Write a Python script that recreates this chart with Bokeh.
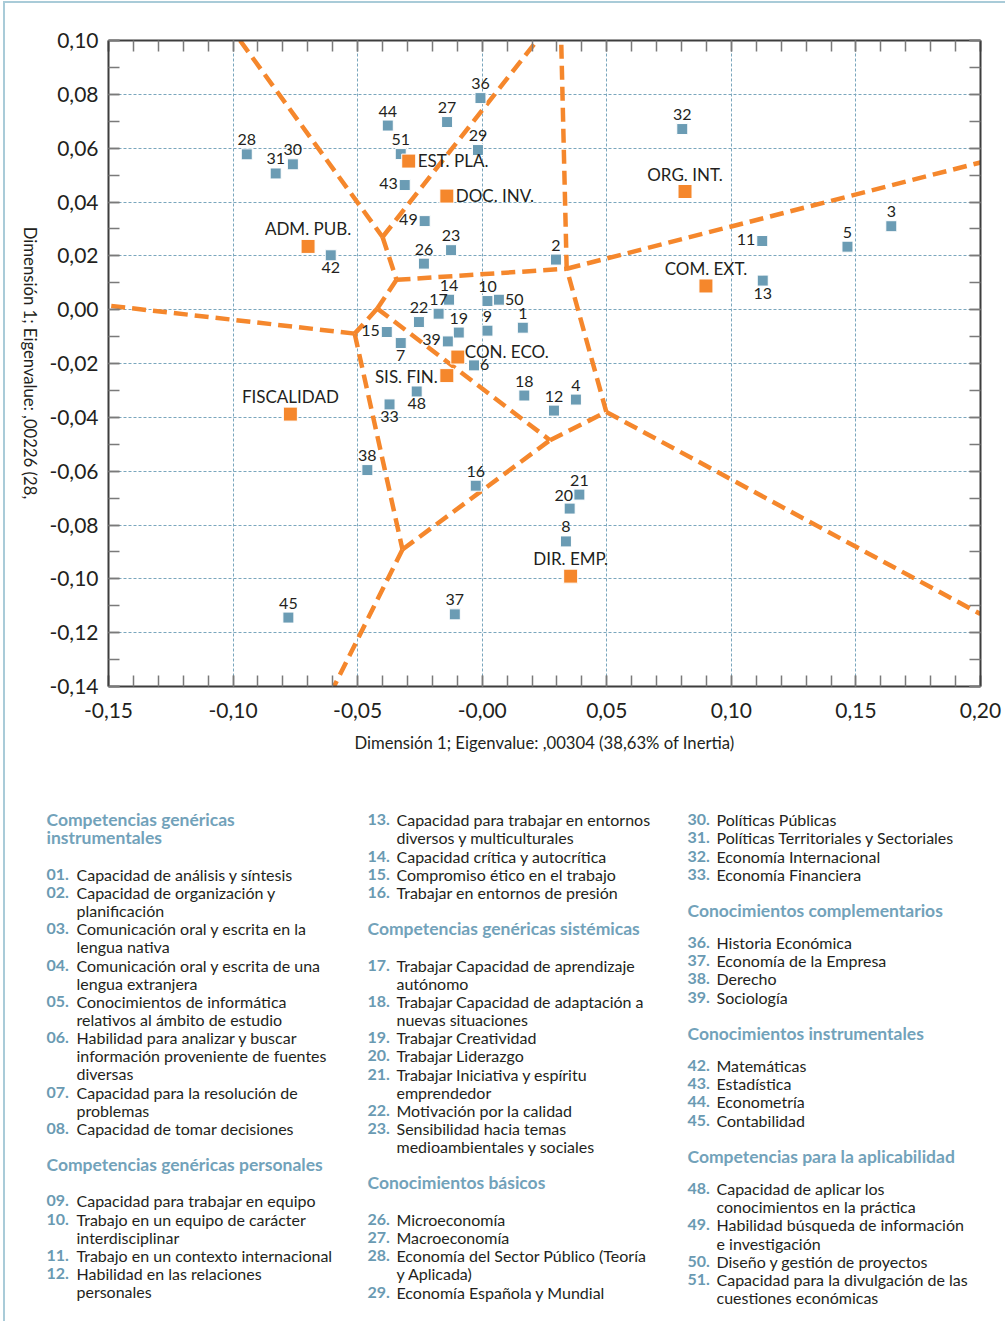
import numpy as np
from bokeh.plotting import figure
from bokeh.models import (Range1d, LinearAxis, FixedTicker, Grid, ColumnDataSource,
                          CustomJSTickFormatter)
from bokeh.layouts import column, row
from bokeh.core.properties import value
from bokeh.embed import file_html
from bokeh.resources import INLINE

# ---------------- data ----------------
point_ids = ["1", "2", "3", "4", "5", "6", "7", "8", "9", "10", "11", "12", "13", "14", "15",
             "16", "17", "18", "19", "20", "21", "22", "23", "26", "27", "28", "29", "30", "31",
             "32", "33", "36", "37", "38", "39", "42", "43", "44", "45", "48", "49", "50", "51"]
point_x = [0.0163, 0.0296, 0.1642, 0.0376, 0.1466, -0.0033, -0.0327, 0.0336, 0.0021, 0.0021,
           0.1124, 0.0288, 0.1126, -0.0133, -0.0383, -0.0026, -0.0175, 0.0169, -0.0094, 0.0351,
           0.0390, -0.0254, -0.0125, -0.0234, -0.0141, -0.0945, -0.0017, -0.0760, -0.0829,
           0.0803, -0.0372, -0.0007, -0.0110, -0.0461, -0.0138, -0.0608, -0.0311, -0.0379,
           -0.0778, -0.0263, -0.0231, 0.0067, -0.0327]
point_y = [-0.0067, 0.0186, 0.0310, -0.0334, 0.0234, -0.0207, -0.0124, -0.0861, -0.0078, 0.0032,
           0.0255, -0.0375, 0.0108, 0.0037, -0.0083, -0.0654, -0.0015, -0.0319, -0.0085, -0.0739,
           -0.0687, -0.0046, 0.0221, 0.0171, 0.0697, 0.0577, 0.0593, 0.0540, 0.0506,
           0.0671, -0.0352, 0.0786, -0.1132, -0.0596, -0.0118, 0.0202, 0.0463, 0.0684,
           -0.1144, -0.0304, 0.0329, 0.0037, 0.0578]
point_place = ["a", "a", "a", "a", "a", "r", "b", "a", "a", "a", "l", "a", "b", "a", "l",
               "a", "a", "a", "a", "al", "a", "a", "a", "a", "a", "a", "a", "a", "a",
               "a", "b", "a", "a", "a", "l", "b", "l", "a", "a", "b", "l", "r", "a"]

cat_names = ["EST. PLA.", "DOC. INV.", "ADM. PUB.", "ORG. INT.", "COM. EXT.", "CON. ECO.",
             "SIS. FIN.", "FISCALIDAD", "DIR. EMP."]
cat_x = [-0.0295, -0.0142, -0.0699, 0.0814, 0.0898, -0.0098, -0.0142, -0.0770, 0.0355]
cat_y = [0.0552, 0.0422, 0.0235, 0.0439, 0.0088, -0.0176, -0.0245, -0.0388, -0.0990]
cat_place = ["r", "r", "a", "a", "a", "ru", "l", "a", "a"]

# boundary vertices (data units) and the edges joining them
vertex_names = ["A", "B", "C", "D", "E", "F", "G", "H",
                "TL", "TM", "TC", "RC", "RH", "LE", "BG"]
vertex_x = [-0.0400, -0.0344, 0.0339, -0.0421, -0.0512, 0.0272, -0.0320, 0.0498,
            -0.0972, 0.0220, 0.0317, 0.2000, 0.2000, -0.1500, -0.0595]
vertex_y = [0.0270, 0.0111, 0.0152, 0.0004, -0.0089, -0.0485, -0.0891, -0.0380,
            0.1000, 0.1000, 0.1000, 0.0547, -0.1131, 0.0015, -0.1400]
edges = [("TL", "A"), ("A", "TM"), ("A", "B"), ("B", "C"), ("B", "D"), ("D", "E"),
         ("D", "F"), ("E", "LE"), ("E", "G"), ("G", "BG"), ("G", "F"), ("F", "H"),
         ("H", "C"), ("H", "RH"), ("C", "TC"), ("C", "RC")]

x_ticks = [-0.15, -0.10, -0.05, 0.0, 0.05, 0.10, 0.15, 0.20]
x_tick_labels = ["-0,15", "-0,10", "-0,05", "-0,00", "0,05", "0,10", "0,15", "0,20"]
y_ticks = [0.10, 0.08, 0.06, 0.04, 0.02, 0.0, -0.02, -0.04, -0.06, -0.08, -0.10, -0.12, -0.14]
y_tick_labels = ["0,10", "0,08", "0,06", "0,04", "0,02", "0,00", "-0,02", "-0,04", "-0,06",
                 "-0,08", "-0,10", "-0,12", "-0,14"]
x_label = "Dimensión 1; Eigenvalue: ,00304 (38,63% of Inertia)"
y_label = "Dimensión 1; Eigenvalue: ,00226 (28,"

legend_col1 = [
    ["H", "Competencias genéricas", "instrumentales"],
    ["01.", "Capacidad de análisis y síntesis"],
    ["02.", "Capacidad de organización y", "planificación"],
    ["03.", "Comunicación oral y escrita en la", "lengua nativa"],
    ["04.", "Comunicación oral y escrita de una", "lengua extranjera"],
    ["05.", "Conocimientos de informática", "relativos al ámbito de estudio"],
    ["06.", "Habilidad para analizar y buscar", "información proveniente de fuentes", "diversas"],
    ["07.", "Capacidad para la resolución de", "problemas"],
    ["08.", "Capacidad de tomar decisiones"],
    ["H", "Competencias genéricas personales"],
    ["09.", "Capacidad para trabajar en equipo"],
    ["10.", "Trabajo en un equipo de carácter", "interdisciplinar"],
    ["11.", "Trabajo en un contexto internacional"],
    ["12.", "Habilidad en las relaciones", "personales"],
]
legend_col2 = [
    ["13.", "Capacidad para trabajar en entornos", "diversos y multiculturales"],
    ["14.", "Capacidad crítica y autocrítica"],
    ["15.", "Compromiso ético en el trabajo"],
    ["16.", "Trabajar en entornos de presión"],
    ["H", "Competencias genéricas sistémicas"],
    ["17.", "Trabajar Capacidad de aprendizaje", "autónomo"],
    ["18.", "Trabajar Capacidad de adaptación a", "nuevas situaciones"],
    ["19.", "Trabajar Creatividad"],
    ["20.", "Trabajar Liderazgo"],
    ["21.", "Trabajar Iniciativa y espíritu", "emprendedor"],
    ["22.", "Motivación por la calidad"],
    ["23.", "Sensibilidad hacia temas", "medioambientales y sociales"],
    ["H", "Conocimientos básicos"],
    ["26.", "Microeconomía"],
    ["27.", "Macroeconomía"],
    ["28.", "Economía del Sector Público (Teoría", "y Aplicada)"],
    ["29.", "Economía Española y Mundial"],
]
legend_col3 = [
    ["30.", "Políticas Públicas"],
    ["31.", "Políticas Territoriales y Sectoriales"],
    ["32.", "Economía Internacional"],
    ["33.", "Economía Financiera"],
    ["H", "Conocimientos complementarios"],
    ["36.", "Historia Económica"],
    ["37.", "Economía de la Empresa"],
    ["38.", "Derecho"],
    ["39.", "Sociología"],
    ["H", "Conocimientos instrumentales"],
    ["42.", "Matemáticas"],
    ["43.", "Estadística"],
    ["44.", "Econometría"],
    ["45.", "Contabilidad"],
    ["H", "Competencias para la aplicabilidad"],
    ["48.", "Capacidad de aplicar los", "conocimientos en la práctica"],
    ["49.", "Habilidad búsqueda de información", "e investigación"],
    ["50.", "Diseño y gestión de proyectos"],
    ["51.", "Capacidad para la divulgación de las", "cuestiones económicas"],
]

# ---------------- style ----------------
FONT = "Lato"
DARK = "#231f20"
BLUEGRAY = "#6b9cb4"
NUMC = "#6a9ab2"
HEAD = "#72a2ba"
ORANGE = "#f5872c"
GRIDC = "#7aa6bd"
BORDER = "#a9cbd8"

OX, OY = 5, 3          # page position of the content (after margin + border)
H1, H2 = 780, 538
LW, MW = 36, 964
TOTAL_W = LW + MW
BASEFIX = 7.5          # renderer puts alphabetic baselines this much lower; compensate

PT_OFF = {"a": (0, -7, "center"), "b": (0, 20, "center"), "l": (-7, 6, "right"),
          "r": (6, 7, "left"), "al": (-6, -6, "center")}
CAT_OFF = {"a": (0, -10, "center"), "r": (9, 7, "left"), "ru": (7, 2, "left"),
           "l": (-9, 8, "right")}

# ---------------- main plot ----------------
p = figure(width=MW, height=H1, x_range=Range1d(-0.15, 0.20), y_range=Range1d(-0.14, 0.10),
           x_axis_type=None, y_axis_type=None, output_backend="svg", toolbar_location=None,
           min_border_left=67, min_border_right=25, min_border_top=37, min_border_bottom=97,
           background_fill_color="white", border_fill_color="white")
p.outline_line_color = None

x_minor = [round(v, 2) for v in np.arange(-0.15, 0.2001, 0.01)]
y_minor = [round(v, 2) for v in np.arange(-0.14, 0.1001, 0.01)]


def make_fmt(tks, lbls):
    return CustomJSTickFormatter(args=dict(tkvals=tks, tklabels=lbls), code="""
        let best = 0, bd = Infinity;
        for (let i = 0; i < tkvals.length; i++) {
            const d = Math.abs(tkvals[i] - tick);
            if (d < bd) { bd = d; best = i; }
        }
        return tklabels[best];
    """)


def style_axis(ax, show_labels):
    ax.axis_line_color = "#3d3d3d"
    ax.axis_line_width = 2
    ax.major_tick_in = 11
    ax.major_tick_out = 0
    ax.minor_tick_in = 11
    ax.minor_tick_out = 0
    ax.major_tick_line_color = "#7a7a7a"
    ax.minor_tick_line_color = "#7a7a7a"
    ax.major_tick_line_width = 1.5
    ax.minor_tick_line_width = 1.5
    if show_labels:
        ax.major_label_text_font = FONT
        ax.major_label_text_font_size = "21px"
        ax.major_label_text_color = DARK
    else:
        ax.major_label_text_font_size = "0px"
        ax.major_label_standoff = 0


xb = LinearAxis(ticker=FixedTicker(ticks=x_ticks, minor_ticks=x_minor),
                formatter=make_fmt(x_ticks, x_tick_labels))
style_axis(xb, True)
xb.major_label_standoff = 16
xb.axis_label = x_label
xb.axis_label_text_font = FONT
xb.axis_label_text_font_size = "16.7px"
xb.axis_label_text_font_style = "normal"
xb.axis_label_text_color = DARK
xb.axis_label_standoff = 12
p.add_layout(xb, "below")

xt = LinearAxis(ticker=FixedTicker(ticks=x_ticks, minor_ticks=x_minor),
                formatter=make_fmt(x_ticks, [""] * len(x_ticks)))
style_axis(xt, False)
p.add_layout(xt, "above")

yl = LinearAxis(ticker=FixedTicker(ticks=y_ticks, minor_ticks=y_minor),
                formatter=make_fmt(y_ticks, y_tick_labels))
style_axis(yl, True)
yl.major_label_standoff = 10
p.add_layout(yl, "left")

yr = LinearAxis(ticker=FixedTicker(ticks=y_ticks, minor_ticks=y_minor),
                formatter=make_fmt(y_ticks, [""] * len(y_ticks)))
style_axis(yr, False)
p.add_layout(yr, "right")

for dim, tk in ((0, x_ticks), (1, y_ticks)):
    g = Grid(dimension=dim, ticker=FixedTicker(ticks=tk))
    g.grid_line_color = GRIDC
    g.grid_line_dash = "3 2"
    g.grid_line_width = 1
    p.add_layout(g)

# boundary lines
vidx = {n: i for i, n in enumerate(vertex_names)}
seg = ColumnDataSource(dict(
    x0=[vertex_x[vidx[a]] for a, b in edges], y0=[vertex_y[vidx[a]] for a, b in edges],
    x1=[vertex_x[vidx[b]] for a, b in edges], y1=[vertex_y[vidx[b]] for a, b in edges]))
p.segment("x0", "y0", "x1", "y1", source=seg, line_color=ORANGE, line_width=4.5,
          line_dash="14 7", line_cap="butt")

# points
pts = ColumnDataSource(dict(
    x=point_x, y=point_y, t=point_ids,
    dx=[PT_OFF[k][0] for k in point_place],
    dy=[PT_OFF[k][1] - BASEFIX for k in point_place],
    al=[PT_OFF[k][2] for k in point_place]))
p.scatter("x", "y", source=pts, marker="square", size=11, fill_color=BLUEGRAY,
          line_color="white", line_width=1)
p.text("x", "y", text="t", source=pts, x_offset="dx", y_offset="dy", text_align="al",
       text_baseline="alphabetic", text_font=value(FONT), text_font_size="16px",
       text_color=DARK)

cats = ColumnDataSource(dict(
    x=cat_x, y=cat_y, t=cat_names,
    dx=[CAT_OFF[k][0] for k in cat_place],
    dy=[CAT_OFF[k][1] - BASEFIX for k in cat_place],
    al=[CAT_OFF[k][2] for k in cat_place]))
p.scatter("x", "y", source=cats, marker="square", size=14, fill_color=ORANGE,
          line_color="white", line_width=1)
p.text("x", "y", text="t", source=cats, x_offset="dx", y_offset="dy", text_align="al",
       text_baseline="alphabetic", text_font=value(FONT), text_font_size="17px",
       text_color=DARK)

# ---------------- y label strip ----------------
lf = figure(width=LW, height=H1, x_range=Range1d(0, LW), y_range=Range1d(0, H1),
            x_axis_type=None, y_axis_type=None, output_backend="svg", toolbar_location=None,
            min_border=0, background_fill_color="white", border_fill_color="white")
lf.outline_line_color = None
lf.grid.visible = False
lf.text(x=[29 - OX], y=[H1 - (228 - OY)], text=[y_label], angle=-np.pi / 2,
        text_align="left", text_baseline="middle", text_font=value(FONT),
        text_font_size="16.7px", text_color=DARK)

# ---------------- legend ----------------
LY0 = OY + H1


def build_column(entries, x_num, x_txt, y0, after_hdr, step=18.15, before_hdr=36.2):
    H, N, T = ([], [], []), ([], [], []), ([], [], [])
    last = None
    prev = None
    for e in entries:
        kind, lines = e[0], e[1:]
        if last is None:
            y = y0
        elif kind == "H":
            y = last + before_hdr
        elif prev == "H":
            y = last + after_hdr
        else:
            y = last + step
        for k, ln in enumerate(lines):
            yy = y + k * step - BASEFIX
            tgt = H if kind == "H" else T
            tgt[0].append((x_num if kind == "H" else x_txt) - OX)
            tgt[1].append(H2 - (yy - LY0))
            tgt[2].append(ln)
        if kind != "H":
            N[0].append(x_num - OX)
            N[1].append(H2 - (y - BASEFIX - LY0))
            N[2].append(kind)
        last = y + (len(lines) - 1) * step
        prev = "H" if kind == "H" else "I"
    return H, N, T


lg = figure(width=TOTAL_W, height=H2, x_range=Range1d(0, TOTAL_W), y_range=Range1d(0, H2),
            x_axis_type=None, y_axis_type=None, output_backend="svg", toolbar_location=None,
            min_border=0, background_fill_color="white", border_fill_color="white")
lg.outline_line_color = None
lg.grid.visible = False

for entries, xn, xt_, aft in ((legend_col1, 46, 76, 36.4), (legend_col2, 367, 396, 36.6),
                              (legend_col3, 687, 716, 32.3)):
    Hh, Nn, Tt = build_column(entries, xn, xt_, 826.7, aft)
    if Hh[0]:
        lg.text(x=Hh[0], y=Hh[1], text=Hh[2], text_font=value(FONT), text_font_size="17.5px",
                text_font_style="bold", text_color=HEAD, text_baseline="alphabetic")
    lg.text(x=Nn[0], y=Nn[1], text=Nn[2], text_font=value(FONT), text_font_size="16px",
            text_font_style="bold", text_color=NUMC, text_baseline="alphabetic")
    lg.text(x=Tt[0], y=Tt[1], text=Tt[2], text_font=value(FONT), text_font_size="16px",
            text_color=DARK, text_baseline="alphabetic")

layout = column(row(lf, p), lg,
                styles={"margin-left": "3px", "margin-top": "1px",
                        "border-left": f"2px solid {BORDER}",
                        "border-top": f"2px solid {BORDER}"})

open("out.html", "w").write(file_html(layout, INLINE))
